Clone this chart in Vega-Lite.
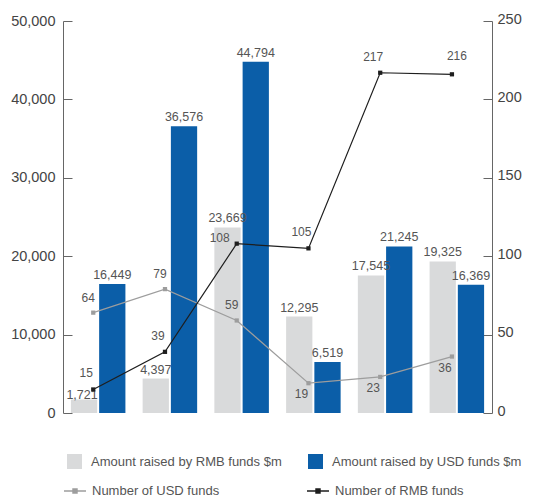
{
  "$schema": "https://vega.github.io/schema/vega-lite/v6.json",
  "width": 429,
  "height": 392,
  "autosize": {"type": "none"},
  "padding": {"left": 63, "top": 21, "right": 43, "bottom": 84},
  "config": {
    "font": "Liberation Sans",
    "view": {"stroke": null},
    "axis": {"grid": false}
  },
  "datasets": {
    "bars": [
      {"year": "2006", "series": "Amount raised by RMB funds $m", "amount": 1721},
      {"year": "2006", "series": "Amount raised by USD funds $m", "amount": 16449},
      {"year": "2007", "series": "Amount raised by RMB funds $m", "amount": 4397},
      {"year": "2007", "series": "Amount raised by USD funds $m", "amount": 36576},
      {"year": "2008", "series": "Amount raised by RMB funds $m", "amount": 23669},
      {"year": "2008", "series": "Amount raised by USD funds $m", "amount": 44794},
      {"year": "2009", "series": "Amount raised by RMB funds $m", "amount": 12295},
      {"year": "2009", "series": "Amount raised by USD funds $m", "amount": 6519},
      {"year": "2010", "series": "Amount raised by RMB funds $m", "amount": 17545},
      {"year": "2010", "series": "Amount raised by USD funds $m", "amount": 21245},
      {"year": "As of Q3 2011", "series": "Amount raised by RMB funds $m", "amount": 19325},
      {"year": "As of Q3 2011", "series": "Amount raised by USD funds $m", "amount": 16369}
    ],
    "lines": [
      {"year": "2006", "series": "Number of USD funds", "count": 64},
      {"year": "2007", "series": "Number of USD funds", "count": 79},
      {"year": "2008", "series": "Number of USD funds", "count": 59},
      {"year": "2009", "series": "Number of USD funds", "count": 19},
      {"year": "2010", "series": "Number of USD funds", "count": 23},
      {"year": "As of Q3 2011", "series": "Number of USD funds", "count": 36},
      {"year": "2006", "series": "Number of RMB funds", "count": 15},
      {"year": "2007", "series": "Number of RMB funds", "count": 39},
      {"year": "2008", "series": "Number of RMB funds", "count": 108},
      {"year": "2009", "series": "Number of RMB funds", "count": 105},
      {"year": "2010", "series": "Number of RMB funds", "count": 217},
      {"year": "As of Q3 2011", "series": "Number of RMB funds", "count": 216}
    ]
  },
  "layer": [
    {
      "data": {"name": "bars"},
      "encoding": {
        "x": {
          "field": "year",
          "type": "nominal",
          "sort": ["2006", "2007", "2008", "2009", "2010", "As of Q3 2011"],
          "scale": {"paddingInner": 0.24, "paddingOuter": 0.11},
          "axis": {
            "title": null,
            "labelAngle": 0,
            "ticks": false,
            "labelPadding": 9,
            "labelFontSize": 14.5,
            "labelColor": "#444",
            "domainColor": "#333",
            "domainWidth": 1.5
          }
        },
        "xOffset": {
          "field": "series",
          "sort": ["Amount raised by RMB funds $m", "Amount raised by USD funds $m"],
          "scale": {"paddingInner": 0.07, "paddingOuter": 0}
        },
        "y": {
          "field": "amount",
          "type": "quantitative",
          "scale": {"domain": [0, 50000], "nice": false},
          "axis": {
            "title": null,
            "values": [0, 10000, 20000, 30000, 40000, 50000],
            "format": ",.0f",
            "tickSize": -9,
            "labelPadding": 17,
            "labelFontSize": 14.5,
            "labelColor": "#444",
            "domainColor": "#666",
            "tickColor": "#666"
          }
        }
      },
      "layer": [
        {
          "mark": {"type": "bar"},
          "encoding": {
            "color": {
              "field": "series",
              "type": "nominal",
              "scale": {
                "domain": ["Amount raised by RMB funds $m", "Amount raised by USD funds $m"],
                "range": ["#d9dadb", "#0b5ea8"]
              },
              "legend": {
                "title": null,
                "orient": "none",
                "legendX": 4,
                "legendY": 433,
                "direction": "horizontal",
                "columns": 2,
                "columnPadding": 26,
                "symbolType": "square",
                "symbolSize": 225,
                "symbolStrokeWidth": 0,
                "labelFontSize": 13,
                "labelColor": "#555",
                "labelOffset": 9,
                "labelLimit": 300
              }
            }
          }
        },
        {
          "transform": [{"filter": "!(datum.year == '2006' && datum.series == 'Amount raised by RMB funds $m')"}],
          "mark": {"type": "text", "baseline": "alphabetic", "dy": -5, "fontSize": 12.5, "color": "#555"},
          "encoding": {"text": {"field": "amount", "type": "quantitative", "format": ","}}
        },
        {
          "transform": [{"filter": "datum.year == '2006' && datum.series == 'Amount raised by RMB funds $m'"}],
          "mark": {"type": "text", "baseline": "alphabetic", "dy": -1, "dx": -2, "fontSize": 12.5, "color": "#555"},
          "encoding": {"text": {"field": "amount", "type": "quantitative", "format": ","}}
        }
      ]
    },
    {
      "data": {"name": "lines"},
      "encoding": {
        "x": {
          "field": "year",
          "type": "nominal",
          "sort": ["2006", "2007", "2008", "2009", "2010", "As of Q3 2011"],
          "bandPosition": 0.41,
          "axis": null
        },
        "y": {
          "field": "count",
          "type": "quantitative",
          "scale": {"domain": [0, 250], "nice": false},
          "axis": {
            "orient": "right",
            "title": null,
            "values": [0, 50, 100, 150, 200, 250],
            "format": "d",
            "tickSize": -9,
            "labelPadding": 14,
            "labelOffset": -2,
            "labelFontSize": 14.5,
            "labelColor": "#444",
            "domainColor": "#666",
            "tickColor": "#666"
          }
        }
      },
      "layer": [
        {
          "mark": {"type": "line", "strokeWidth": 1.2, "point": {"shape": "square", "size": 18, "filled": true}},
          "encoding": {
            "color": {
              "field": "series",
              "type": "nominal",
              "scale": {
                "domain": ["Number of USD funds", "Number of RMB funds"],
                "range": ["#9d9d9d", "#1e1e1e"]
              },
              "legend": {
                "title": null,
                "orient": "none",
                "legendX": 0,
                "legendY": 458,
                "direction": "horizontal",
                "columns": 2,
                "columnPadding": 84,
                "symbolType": "M-1,0H1M-0.18,-0.18H0.18V0.18H-0.18Z",
                "symbolSize": 484,
                "symbolStrokeWidth": 1.5,
                "labelFontSize": 13,
                "labelColor": "#555",
                "labelOffset": 5,
                "labelLimit": 300
              }
            }
          }
        },
        {
          "transform": [{"filter": "datum.series == 'Number of USD funds' && (datum.year == '2006' || datum.year == '2007' || datum.year == '2008')"}],
          "mark": {"type": "text", "dx": -5, "dy": -15, "fontSize": 12, "color": "#555"},
          "encoding": {"text": {"field": "count", "type": "quantitative"}}
        },
        {
          "transform": [{"filter": "datum.series == 'Number of USD funds' && !(datum.year == '2006' || datum.year == '2007' || datum.year == '2008')"}],
          "mark": {"type": "text", "dx": -7, "dy": 11, "fontSize": 12, "color": "#555"},
          "encoding": {"text": {"field": "count", "type": "quantitative"}}
        },
        {
          "transform": [{"filter": "datum.series == 'Number of RMB funds' && datum.year != '2008' && datum.year != 'As of Q3 2011'"}],
          "mark": {"type": "text", "dx": -7, "dy": -16, "fontSize": 12, "color": "#555"},
          "encoding": {"text": {"field": "count", "type": "quantitative"}}
        },
        {
          "transform": [{"filter": "datum.series == 'Number of RMB funds' && datum.year == '2008'"}],
          "mark": {"type": "text", "align": "right", "dx": -7, "dy": -6, "fontSize": 12, "color": "#555"},
          "encoding": {"text": {"field": "count", "type": "quantitative"}}
        },
        {
          "transform": [{"filter": "datum.series == 'Number of RMB funds' && datum.year == 'As of Q3 2011'"}],
          "mark": {"type": "text", "dx": 5, "dy": -18, "fontSize": 12, "color": "#555"},
          "encoding": {"text": {"field": "count", "type": "quantitative"}}
        }
      ]
    }
  ],
  "resolve": {"scale": {"y": "independent", "color": "independent"}}
}
